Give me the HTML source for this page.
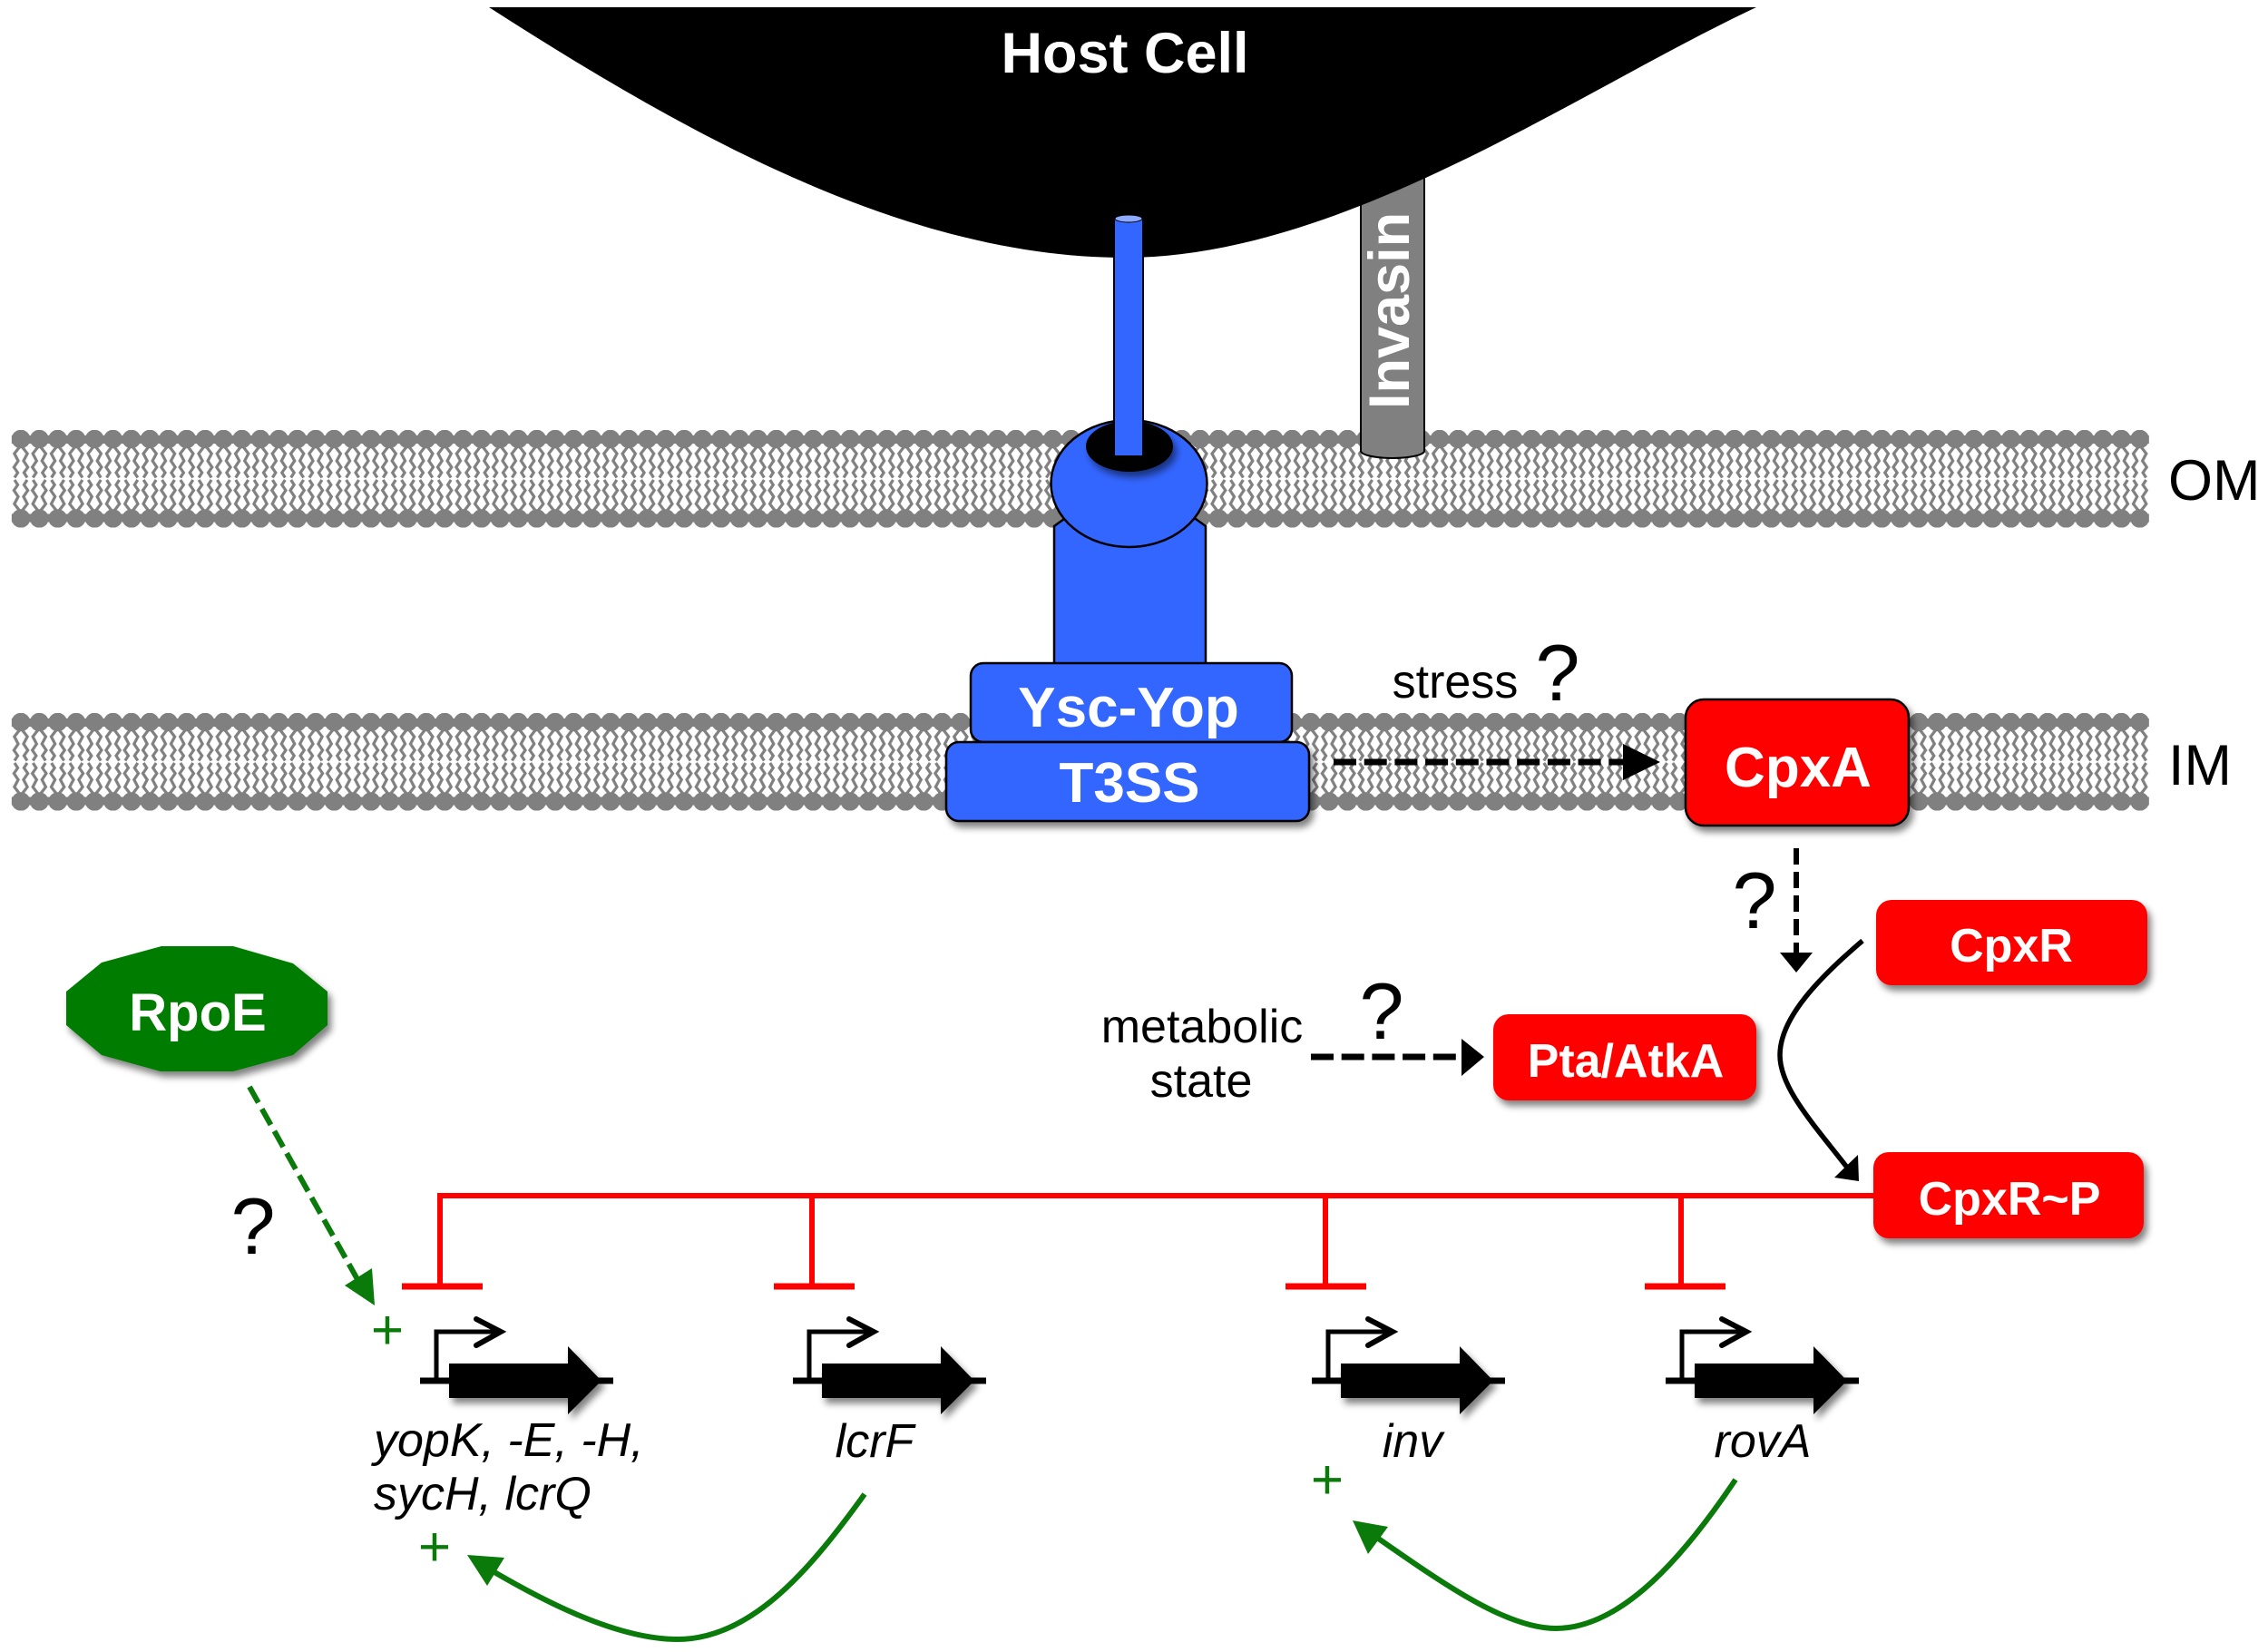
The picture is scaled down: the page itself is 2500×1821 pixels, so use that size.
<!DOCTYPE html>
<html>
<head>
<meta charset="utf-8">
<style>
html,body{margin:0;padding:0;background:#fff;width:2500px;height:1821px;overflow:hidden}
svg{display:block}
text{font-family:"Liberation Sans",sans-serif}
.b{font-weight:bold;fill:#fff;text-anchor:middle}
.r{fill:#000;text-anchor:middle;font-size:52px}
.q{fill:#000;text-anchor:middle;font-size:88px}
.i{fill:#000;font-style:italic;font-size:52px}
.p{fill:#0a7a0a;font-size:62px;text-anchor:middle}
</style>
</head>
<body>
<svg width="2500" height="1821" viewBox="0 0 2500 1821" xmlns="http://www.w3.org/2000/svg">
<defs>
<filter id="s" x="-20%" y="-20%" width="150%" height="150%"><feGaussianBlur in="SourceAlpha" stdDeviation="4"/><feOffset dx="4" dy="6"/><feComponentTransfer><feFuncA type="linear" slope="0.5"/></feComponentTransfer><feMerge><feMergeNode/><feMergeNode in="SourceGraphic"/></feMerge></filter>
<pattern id="lip" x="12.85" y="0" width="20.31" height="107.5" patternUnits="userSpaceOnUse">
<circle cx="10.155" cy="10" r="10.3" fill="#808080"/>
<circle cx="10.155" cy="97.5" r="10.3" fill="#808080"/>
<rect x="0" y="6" width="20.31" height="9" fill="#808080"/>
<rect x="0" y="92.500" width="20.31" height="9" fill="#808080"/>
<g fill="none" stroke="#808080" stroke-width="3.200">
<path d="M9.200 18L3 26L7.200 34L2.500 41L6.700 47L3.200 52.500"/>
<path d="M11.100 18L17.300 26L13.100 34L17.800 41L13.600 47L17.100 52.500"/>
<path d="M9.200 89.500L3 81.500L7.200 73.500L2.500 66.500L6.700 60.500L3.200 55"/>
<path d="M11.100 89.500L17.300 81.500L13.100 73.500L17.800 66.500L13.600 60.500L17.100 55"/>
</g>
</pattern>
<clipPath id="cc"><ellipse cx="1244.500" cy="533" rx="86" ry="70"/></clipPath>
<g id="gene">
<path d="M463 1522H676" stroke="#000" stroke-width="7" fill="none"/>
<path d="M481 1522V1468H550" stroke="#000" stroke-width="5" fill="none"/>
<path d="M525 1454L552 1468L525 1483" stroke="#000" stroke-width="6" fill="none" stroke-linecap="round"/>
<path d="M495 1503H626V1484L663 1522L626 1559V1541H495Z" fill="#000" filter="url(#s)"/>
</g>
</defs>

<g transform="translate(0,474)"><rect x="12.85" width="2356" height="107.5" fill="url(#lip)"/></g>
<g transform="translate(0,786)"><rect x="12.85" width="2356" height="107.5" fill="url(#lip)"/></g>

<!-- Invasin -->
<path d="M1500 180V497A35 8 0 0 0 1570 497V180Z" fill="#808080" stroke="#000" stroke-width="2"/>
<text transform="translate(1553,451) rotate(-90)" font-size="63" font-weight="bold" fill="#fff">Invasin</text>

<!-- Host -->
<path d="M539 8H1936C1740 100,1480 284,1240 284C1000 284,760 150,539 8Z" fill="#000"/>
<text x="1240" y="80" class="b" font-size="63">Host Cell</text>

<!-- T3SS -->
<path d="M1162 733V580L1173 572H1318L1329 580V733Z" fill="#3366ff" stroke="#000" stroke-width="2.500"/>
<ellipse cx="1244.500" cy="533" rx="86" ry="70" fill="#3366ff" stroke="#000" stroke-width="2.500"/>
<g clip-path="url(#cc)"><ellipse cx="1245" cy="492" rx="48" ry="28" fill="#000" filter="url(#s)"/></g>
<rect x="1228" y="241" width="32" height="262" fill="#3366ff" stroke="#000" stroke-width="2"/>
<ellipse cx="1244" cy="241" rx="15" ry="4" fill="#8fa9ff" stroke="#000" stroke-width="1"/>
<rect x="1070" y="731" width="354" height="87" rx="14" fill="#3366ff" stroke="#000" stroke-width="2.500"/>
<rect x="1043" y="818" width="400" height="87" rx="14" fill="#3366ff" stroke="#000" stroke-width="2.500" filter="url(#s)"/>
<text x="1244" y="801" class="b" font-size="62">Ysc-Yop</text>
<text x="1245" y="884" class="b" font-size="62">T3SS</text>

<!-- CpxA -->
<rect x="1858" y="771" width="246" height="139" rx="20" fill="#ff0000" stroke="#000" stroke-width="2.500" filter="url(#s)"/>
<text x="1982" y="867" class="b" font-size="62">CpxA</text>

<!-- stress -->
<text x="1604" y="769" class="r">stress</text>
<text x="1717" y="772" class="q">?</text>
<path d="M1470 840H1795" stroke="#000" stroke-width="7" stroke-dasharray="25 8.700" fill="none"/>
<path d="M1789 820L1830 840L1789 860Z" fill="#000"/>
<text x="2390" y="551" font-size="63" fill="#000">OM</text>
<text x="2390" y="865" font-size="63" fill="#000">IM</text>

<!-- CpxA down -->
<path d="M1980 935V1052" stroke="#000" stroke-width="6" stroke-dasharray="18 8" fill="none"/>
<path d="M1962 1050H1998L1980 1072Z" fill="#000"/>
<text x="1934" y="1023" class="q">?</text>

<!-- Red boxes -->
<path d="M482 1318H2066" stroke="#ff0000" stroke-width="6" fill="none"/>
<rect x="2068" y="992" width="299" height="94" rx="17" fill="#ff0000" filter="url(#s)"/>
<rect x="2065" y="1270" width="298" height="95" rx="17" fill="#ff0000" filter="url(#s)"/>
<rect x="1646" y="1118" width="290" height="95" rx="17" fill="#ff0000" filter="url(#s)"/>
<text x="2217" y="1060" class="b" font-size="52">CpxR</text>
<text x="2215" y="1339" class="b" font-size="52">CpxR~P</text>
<text x="1792" y="1187" class="b" font-size="52">Pta/AtkA</text>

<!-- CpxR to P -->
<path d="M2053 1037C2005 1078,1962 1122,1962 1163C1962 1200,2000 1240,2040 1292" stroke="#000" stroke-width="5.500" fill="none"/>
<path d="M2049 1302L2022 1298L2048 1273Z" fill="#000"/>

<!-- metabolic -->
<text x="1325" y="1149" class="r">metabolic</text>
<text x="1324" y="1209" class="r">state</text>
<text x="1523" y="1145" class="q">?</text>
<path d="M1445 1165H1612" stroke="#000" stroke-width="7" stroke-dasharray="25 8.700" fill="none"/>
<path d="M1611 1145L1636 1165L1611 1186Z" fill="#000"/>

<!-- RpoE -->
<path d="M178 1043L257 1043L323 1062L361 1093L361 1130L323 1163L257 1181L177 1181L112 1163L73 1130L73 1093L112 1061Z" fill="#067c06" filter="url(#s)"/>
<text x="218" y="1136" class="b" font-size="58">RpoE</text>
<path d="M275 1198L395 1412" stroke="#0a7a0a" stroke-width="6" stroke-dasharray="20 8" fill="none"/>
<path d="M413 1439L410 1398L380 1417Z" fill="#0a7a0a"/>
<text x="279" y="1382" class="q">?</text>

<!-- T bars -->
<g stroke="#ff0000" fill="none">
<path d="M485 1318V1418M895 1318V1418M1461 1318V1418M1853 1318V1418" stroke-width="6"/>
<path d="M443 1418H532M853 1418H942M1417 1418H1506M1813 1418H1902" stroke-width="7"/>
</g>

<!-- genes -->
<use href="#gene"/>
<use href="#gene" x="411"/>
<use href="#gene" x="983"/>
<use href="#gene" x="1373"/>

<text x="412" y="1605" class="i">yopK, -E, -H,</text>
<text x="412" y="1664" class="i">sycH, lcrQ</text>
<text x="964" y="1606" class="i" text-anchor="middle">lcrF</text>
<text x="1557" y="1606" class="i" text-anchor="middle">inv</text>
<text x="1943" y="1606" class="i" text-anchor="middle">rovA</text>

<!-- plus -->
<text x="427" y="1487" class="p">+</text>
<text x="479" y="1726" class="p">+</text>
<text x="1463" y="1652" class="p">+</text>

<!-- green feedback -->
<path d="M953 1647C896 1726,830 1807,747 1807C680 1807,600 1765,545 1733" stroke="#0a7a0a" stroke-width="6" fill="none"/>
<path d="M515 1714L556 1717L537 1748Z" fill="#0a7a0a"/>
<path d="M1913 1631C1860 1710,1790 1795,1715 1795C1660 1795,1590 1745,1518 1695" stroke="#0a7a0a" stroke-width="6" fill="none"/>
<path d="M1491 1676L1530 1683L1508 1713Z" fill="#0a7a0a"/>
</svg>
</body>
</html>
